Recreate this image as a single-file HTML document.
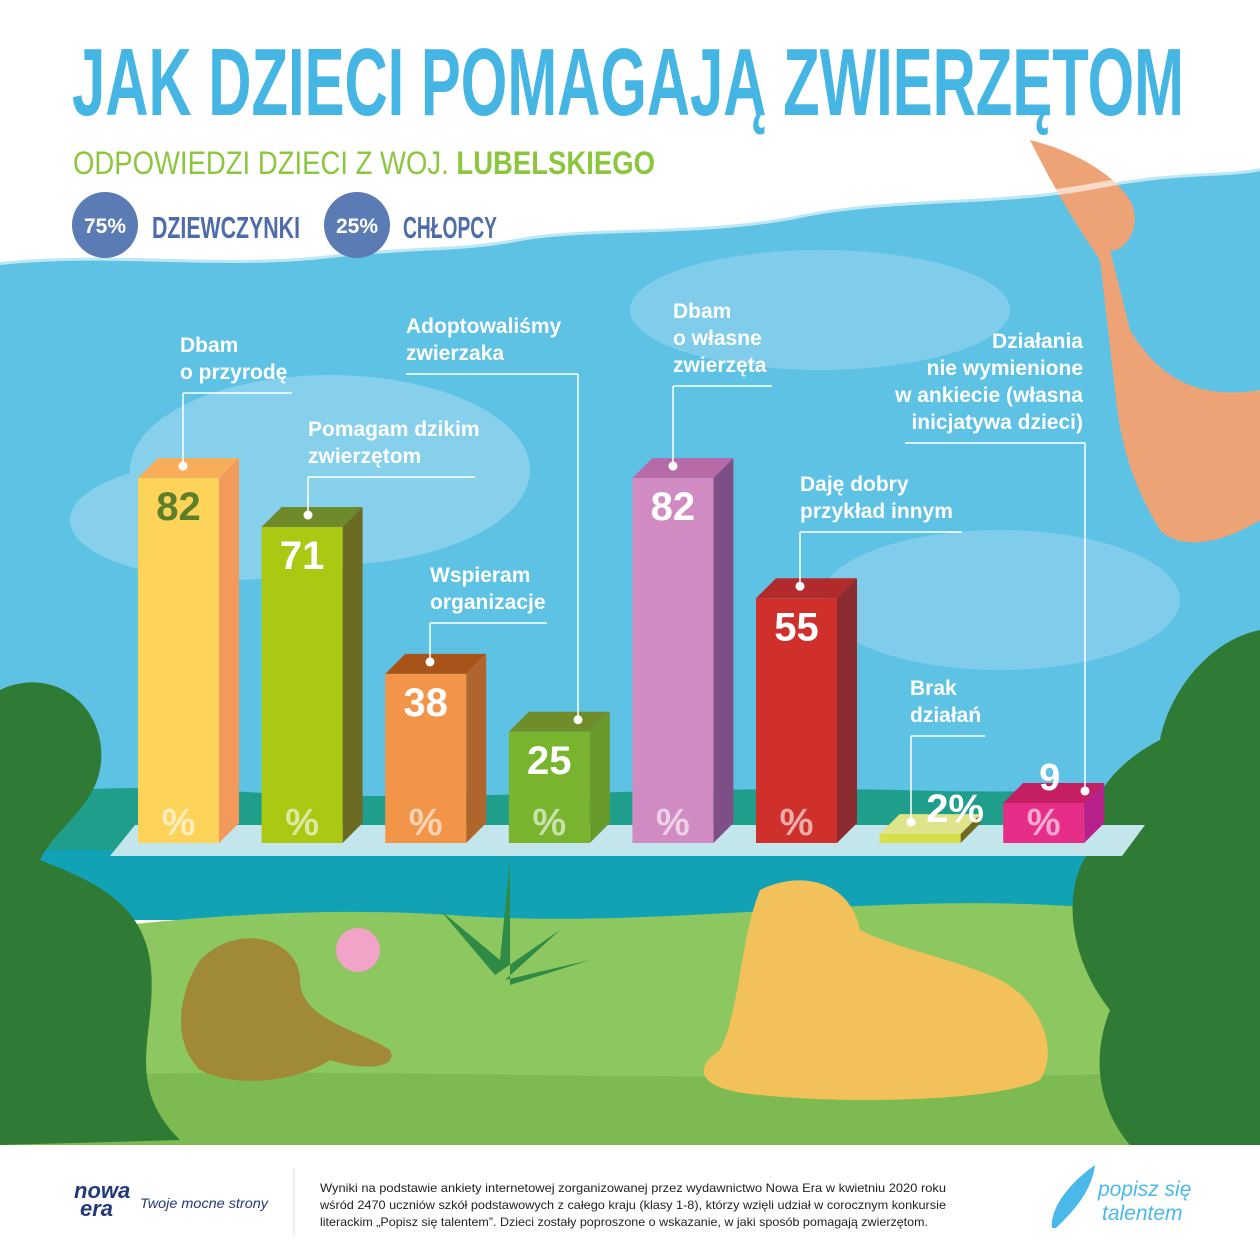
<!DOCTYPE html>
<html><head><meta charset="utf-8"><style>
html,body{margin:0;padding:0;background:#fff}
svg{display:block}
text{font-family:"Liberation Sans",sans-serif}
</style></head><body>
<svg id="chart" width="1260" height="1260" viewBox="0 0 1260 1260" xmlns="http://www.w3.org/2000/svg">
<rect width="1260" height="1260" fill="#ffffff"/>
<g>
<path d="M0,262 C120,250 220,268 330,255 C420,245 460,250 520,238 C600,225 700,235 800,215 C900,195 1000,205 1100,185 C1180,170 1230,175 1260,168 L1260,900 L0,900 Z" fill="#5ec2e4"/>
<ellipse cx="330" cy="470" rx="200" ry="95" fill="#86d0ec"/>
<ellipse cx="230" cy="520" rx="160" ry="60" fill="#86d0ec"/>
<ellipse cx="1000" cy="600" rx="180" ry="70" fill="#7fcdea"/>
<ellipse cx="820" cy="310" rx="190" ry="60" fill="#7fcdea"/>
<path d="M0,800 C100,780 200,790 300,795 C500,800 700,785 900,790 C1050,795 1150,785 1260,790 L1260,860 L0,860 Z" fill="#1f9e8c"/>
<rect x="0" y="850" width="1260" height="70" fill="#12a2b6"/>
<path d="M0,940 C150,920 300,905 450,915 C650,930 850,895 1050,905 C1150,910 1220,905 1260,910 L1260,1145 L0,1145 Z" fill="#8dc75f"/>
<path d="M0,1145 L0,1080 C300,1060 700,1090 1260,1070 L1260,1145 Z" fill="#7dba52"/>
<path d="M0,690 C40,670 90,690 100,740 C110,800 60,820 40,860 C90,880 140,900 150,960 C160,1030 120,1080 180,1140 L0,1145 Z" fill="#2f7a35"/>
<path d="M1260,630 C1210,640 1170,690 1160,740 C1120,760 1080,800 1090,850 C1060,890 1070,960 1110,1010 C1090,1060 1100,1110 1130,1145 L1260,1145 Z" fill="#2f7a35"/>
<path d="M1030,140 C1070,150 1110,170 1130,200 C1145,230 1120,255 1110,250 L1130,330 C1160,380 1200,400 1260,390 L1260,520 C1220,545 1180,550 1160,530 C1130,480 1120,440 1115,390 L1100,260 C1080,230 1060,200 1030,140 Z" fill="#eea377"/>
<path d="M760,890 C800,870 850,880 860,930 C900,950 960,960 1000,980 C1040,1000 1060,1050 1040,1080 C1000,1100 860,1105 760,1095 C700,1090 690,1070 720,1050 C740,1010 740,940 760,890 Z" fill="#f3c15a"/>
<path d="M200,960 C240,920 300,940 300,980 C300,1020 360,1030 390,1050 C400,1070 360,1070 330,1060 C300,1080 240,1090 200,1070 C170,1040 180,990 200,960 Z" fill="#a08a3a"/>
<path d="M510,860 L500,960 L440,910 L495,975 L560,930 L505,980 L590,960 L510,985 Z" fill="#2f8a45"/>
<circle cx="358" cy="950" r="22" fill="#f2a3c8"/>
<path d="M0,262 C120,250 220,268 330,255 C420,245 460,250 520,238 C600,225 700,235 800,215 C900,195 1000,205 1100,185 C1180,170 1230,175 1260,168" fill="none" stroke="#ffffff" stroke-width="6" opacity="0.6"/>
<rect x="0" y="1145" width="1260" height="115" fill="#ffffff"/>
</g>

<text x="72" y="115" font-family="Liberation Sans Narrow, Liberation Sans, sans-serif" font-weight="bold" font-size="96" fill="#45b6e4" textLength="1112" lengthAdjust="spacingAndGlyphs">JAK DZIECI POMAGAJĄ ZWIERZĘTOM</text>
<text x="73" y="174" font-size="32" fill="#8cc63f" textLength="582" lengthAdjust="spacingAndGlyphs">ODPOWIEDZI DZIECI Z WOJ. <tspan font-weight="bold">LUBELSKIEGO</tspan></text>
<g>
<circle cx="105" cy="225" r="33" fill="#5a7bb3"/>
<text x="105" y="233" font-size="21" font-weight="bold" fill="#fff" text-anchor="middle">75%</text>
<text x="152" y="238" font-family="Liberation Sans Narrow, Liberation Sans, sans-serif" font-weight="bold" font-size="31" fill="#4e6ca8" textLength="148" lengthAdjust="spacingAndGlyphs">DZIEWCZYNKI</text>
</g>
<g>
<circle cx="357" cy="225" r="33" fill="#5a7bb3"/>
<text x="357" y="233" font-size="21" font-weight="bold" fill="#fff" text-anchor="middle">25%</text>
<text x="403" y="238" font-family="Liberation Sans Narrow, Liberation Sans, sans-serif" font-weight="bold" font-size="31" fill="#4e6ca8" textLength="94" lengthAdjust="spacingAndGlyphs">CHŁOPCY</text>
</g>

<polygon points="135,825 1145,825 1122,856 110,856" fill="#c3e5ec"/>
<g id="bars"></g>
<g id="labels"></g>

<g>
<text x="74" y="1198" font-size="22" font-style="italic" font-weight="bold" fill="#233a7a">nowa</text>
<text x="80" y="1216" font-size="22" font-style="italic" font-weight="bold" fill="#233a7a">era</text>
<text x="140" y="1208" font-size="14" font-style="italic" fill="#233a7a" textLength="128" lengthAdjust="spacingAndGlyphs">Twoje mocne strony</text>
<line x1="294" y1="1168" x2="294" y2="1235" stroke="#ddd" stroke-width="1"/>
<text font-size="12" fill="#222">
<tspan x="320" y="1192" textLength="626" lengthAdjust="spacingAndGlyphs">Wyniki na podstawie ankiety internetowej zorganizowanej przez wydawnictwo Nowa Era w kwietniu 2020 roku</tspan>
<tspan x="320" y="1209" textLength="626" lengthAdjust="spacingAndGlyphs">wśród 2470 uczniów szkół podstawowych z całego kraju (klasy 1-8), którzy wzięli udział w corocznym konkursie</tspan>
<tspan x="320" y="1226" textLength="608" lengthAdjust="spacingAndGlyphs">literackim „Popisz się talentem”. Dzieci zostały poproszone o wskazanie, w jaki sposób pomagają zwierzętom.</tspan>
</text>
<path d="M1095,1165 C1060,1190 1050,1215 1052,1228 L1056,1228 C1075,1210 1092,1190 1095,1165 Z" fill="#4ab8e8"/>
<text x="1098" y="1196" font-size="21" font-style="italic" fill="#4ab8e8">popisz się</text>
<text x="1102" y="1220" font-size="21" font-style="italic" fill="#4ab8e8">talentem</text>
</g>
</svg>
<script>
const categories = ["Dbam o przyrodę","Pomagam dzikim zwierzętom","Wspieram organizacje","Adoptowaliśmy zwierzaka","Dbam o własne zwierzęta","Daję dobry przykład innym","Brak działań","Działania nie wymienione"];
const values = [82, 71, 38, 25, 82, 55, 2, 9];
const fronts = ["#fdd35a","#abc812","#f39548","#78b42e","#d08cc2","#d0302c","#d6e04a","#e62e88"];
const sides = ["#f39a5a","#6c6b22","#b0652c","#6a9a2c","#7e4f86","#8a2c30","#6f6a1e","#b8208a"];
const tops = ["#f8ad58","#6f8a2a","#a8531a","#6f8d2a","#b76aa8","#b12a2c","#dfe48a","#c31f62"];
const numColors = ["#5e7f2a","#fff","#fff","#fff","#fff","#fff","#fff","#fff"];
const labelLines = [["Dbam","o przyrodę"],["Pomagam dzikim","zwierzętom"],["Wspieram","organizacje"],["Adoptowaliśmy","zwierzaka"],["Dbam","o własne","zwierzęta"],["Daję dobry","przykład innym"],["Brak","działań"],["Działania","nie wymienione","w ankiecie (własna","inicjatywa dzieci)"]];

const NS="http://www.w3.org/2000/svg";
const baseY=843, x0=138, step=123.6, bw=81, dx=20, dy=20, scale=4.45;
const xPos=i=>x0+i*step;
const yPos=v=>baseY-v*scale;
function mk(tag,attrs,parent){const e=document.createElementNS(NS,tag);for(const k in attrs)e.setAttribute(k,attrs[k]);parent.appendChild(e);return e;}
const barsG=document.getElementById('bars');
const labG=document.getElementById('labels');
// label layout (positions only)
const labelPos=[[180,352,"start",183,292],[308,436,"start",308,475],[430,582,"start",430,547],[406,333,"start",578,406],[673,318,"start",673,772],[800,491,"start",800,962],[910,695,"start",911,985],[1083,348,"end",1085,905]];
values.forEach((v,i)=>{
  const x=xPos(i), y=yPos(v);
  const g=mk('g',{},barsG);
  
  
  mk('polygon',{points:`${x},${y} ${x+dx},${y-dy} ${x+bw+dx},${y-dy} ${x+bw},${y}`,fill:tops[i]},g);
  mk('polygon',{points:`${x+bw},${y} ${x+bw+dx},${y-dy} ${x+bw+dx},${baseY-dy} ${x+bw},${baseY}`,fill:sides[i]},g);
  mk('rect',{x:x,y:y,width:bw,height:baseY-y,fill:fronts[i]},g);
  const big=(baseY-y)>90;
  if(big){
    const t=mk('text',{x:x+bw/2,y:y+42,'font-size':40,'font-weight':'bold','text-anchor':'middle',fill:numColors[i]},g);
    t.textContent=v;
    
    
  }
  if((baseY-y)>30){
    const p=mk('text',{x:x+bw/2,y:baseY-8,'font-size':38,'font-weight':'bold','text-anchor':'middle',fill:'#fff','fill-opacity':0.6},g);
    p.textContent='%';
    
    
  }
  if(!big && (baseY-y)>30){
    const t=mk('text',{x:x+bw/2+6,y:y-dy+7,'font-size':38,'font-weight':'bold','text-anchor':'middle',fill:'#fff'},g);
    t.textContent=v;
    
    
  }
  if((baseY-y)<=30){
    const t=mk('text',{x:x+bw/2+35,y:y-12,'font-size':40,'font-weight':'bold','text-anchor':'middle',fill:'#fff'},g);
    t.textContent=v+'%';
    
    
  }
  // labels
  const [tx,ty,anc,lx,hx2]=labelPos[i];
  const lg=mk('g',{},labG);
  
  
  const lines=labelLines[i];
  lines.forEach((s,k)=>{const t=mk('text',{x:tx,y:ty+k*27,'font-size':21,'font-weight':'bold','text-anchor':anc,fill:'#fff'},lg);t.textContent=s;});
  const hy=ty+(lines.length-1)*27+14;
  const hx1 = i===3 ? hx2 : (anc==="end"? hx2 : lx);
  const hxe = i===3 ? lx : (anc==="end"? lx : hx2);
  mk('line',{x1:hx1,y1:hy,x2:hxe,y2:hy,stroke:'#fff','stroke-width':1.5},lg);
  const dotY=y-dy/2-2;
  mk('line',{x1:lx,y1:hy,x2:lx,y2:dotY,stroke:'#fff','stroke-width':1.5},lg);
  mk('circle',{cx:lx,cy:dotY,r:4.5,fill:'#fff'},lg);
});
</script>
</body></html>
